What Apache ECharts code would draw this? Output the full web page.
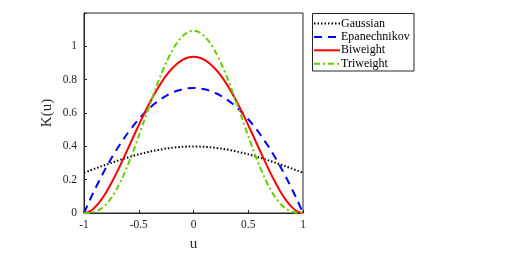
<!DOCTYPE html>
<html><head><meta charset="utf-8">
<script src="https://cdn.jsdelivr.net/npm/echarts@6/dist/echarts.min.js"></script>
<style>html,body{margin:0;padding:0;background:#fff}#c{width:526px;height:257px}</style>
</head><body><div id="c"></div>
<script>
var u = [-1,-0.95,-0.9,-0.85,-0.8,-0.75,-0.7,-0.65,-0.6,-0.55,-0.5,-0.45,-0.4,-0.35,-0.3,-0.25,-0.2,-0.15,-0.1,-0.05,0,
         0.05,0.1,0.15,0.2,0.25,0.3,0.35,0.4,0.45,0.5,0.55,0.6,0.65,0.7,0.75,0.8,0.85,0.9,0.95,1];
var gaussian = [0.24197,0.25406,0.26609,0.27798,0.28969,0.30114,0.31225,0.32297,0.33322,0.34294,0.35207,0.36053,0.36827,0.37524,0.38139,0.38667,0.39104,0.39448,0.39695,0.39844,0.39894,
                0.39844,0.39695,0.39448,0.39104,0.38667,0.38139,0.37524,0.36827,0.36053,0.35207,0.34294,0.33322,0.32297,0.31225,0.30114,0.28969,0.27798,0.26609,0.25406,0.24197];
var epanechnikov = [0,0.0731,0.1425,0.2081,0.27,0.3281,0.3825,0.4331,0.48,0.5231,0.5625,0.5981,0.63,0.6581,0.6825,0.7031,0.72,0.7331,0.7425,0.7481,0.75,
                    0.7481,0.7425,0.7331,0.72,0.7031,0.6825,0.6581,0.63,0.5981,0.5625,0.5231,0.48,0.4331,0.3825,0.3281,0.27,0.2081,0.1425,0.0731,0];
var biweight = [0,0.008912,0.033844,0.072193,0.1215,0.179443,0.243844,0.312662,0.384,0.4561,0.527344,0.596256,0.6615,0.721881,0.776344,0.823975,0.864,0.895787,0.918844,0.932818,0.9375,
                0.932818,0.918844,0.895787,0.864,0.823975,0.776344,0.721881,0.6615,0.596256,0.527344,0.4561,0.384,0.312662,0.243844,0.179443,0.1215,0.072193,0.033844,0.008912,0];
var triweight = [0,0.001014,0.007502,0.023372,0.05103,0.091591,0.145087,0.210656,0.28672,0.371151,0.461426,0.554766,0.64827,0.739025,0.824218,0.901223,0.96768,1.02157,1.061265,1.085568,1.09375,
                 1.085568,1.061265,1.02157,0.96768,0.901223,0.824218,0.739025,0.64827,0.554766,0.461426,0.371151,0.28672,0.210656,0.145087,0.091591,0.05103,0.023372,0.007502,0.001014,0];
var names = ['Gaussian','Epanechnikov','Biweight','Triweight'];
var xTicks = [-1,-0.5,0,0.5,1];
var yTicks = [0,0.2,0.4,0.6,0.8,1];

function pairs(ys){ return u.map(function(x,i){ return [x, ys[i]]; }); }
var font = '"Liberation Serif","Times New Roman",serif';
var chart = echarts.init(document.getElementById('c'), null, {renderer:'canvas'});
var styles = [
  {color:'#000000', type:[1.5,2], width:2},
  {color:'#0000ff', type:[8,6], width:2},
  {color:'#ff0000', type:'solid', width:2},
  {color:'#66cc00', type:[6,3,2,3], width:2}
];
var datas = [gaussian, epanechnikov, biweight, triweight];
chart.setOption({
  animation:false,
  grid:{left:84, right:223, top:13, bottom:43.5, show:true, borderColor:'#262626', borderWidth:1, containLabel:false},
  legend:{
    orient:'vertical', left:313, top:17.5, itemWidth:26, itemHeight:8, itemGap:1.4,
    padding:[0,0,0,0],
    itemStyle:{opacity:0},
    textStyle:{fontFamily:font, fontSize:12, lineHeight:12, color:'#000', padding:[0,0,0,-4]},
    data:names
  },
  graphic:[{type:'rect', shape:{x:312.5, y:13.5, width:101.5, height:57.5}, style:{fill:'none', stroke:'#262626', lineWidth:1}, z:-1}],
  xAxis:{type:'value', min:-1, max:1, interval:0.5,
    name:'u', nameLocation:'middle', nameGap:24,
    nameTextStyle:{fontFamily:font, fontSize:15, color:'#262626'},
    axisLine:{show:true, onZero:false, lineStyle:{color:'#262626'}},
    axisTick:{show:true, inside:true, length:3, lineStyle:{color:'#262626'}},
    axisLabel:{fontFamily:font, fontSize:11.5, color:'#262626', margin:6,
      formatter:function(v){ return xTicks.indexOf(v)>=0 ? String(v) : ''; }},
    splitLine:{show:false}
  },
  yAxis:{type:'value', min:0, max:1.2, interval:0.2,
    name:'K(u)', nameLocation:'middle', nameGap:29,
    nameTextStyle:{fontFamily:font, fontSize:15, color:'#262626'},
    axisLine:{show:true, onZero:false, lineStyle:{color:'#262626'}},
    axisTick:{show:true, inside:true, length:3, lineStyle:{color:'#262626'}},
    axisLabel:{fontFamily:font, fontSize:11.5, color:'#262626', margin:7,
      formatter:function(v){ var r=Math.round(v*10)/10; return yTicks.indexOf(r)>=0 ? String(r) : ''; }},
    splitLine:{show:false}
  },
  series:datas.map(function(d,i){
    return {name:names[i], type:'line', data:pairs(d), symbol:'none', smooth:0.3,
      lineStyle:styles[i], itemStyle:{color:styles[i].color}, z:2+i};
  })
});
</script></body></html>
